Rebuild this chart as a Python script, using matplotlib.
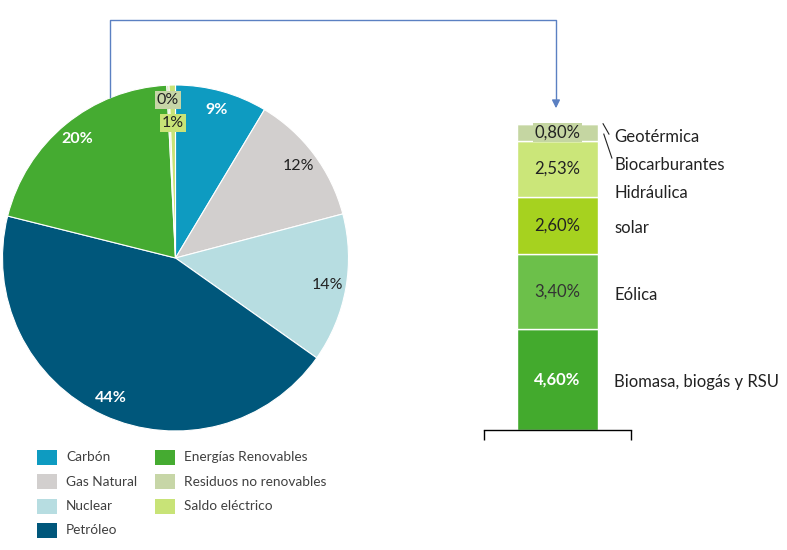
import matplotlib
matplotlib.use("Agg")
import matplotlib.pyplot as plt
from matplotlib.patches import Rectangle
import numpy as np

plt.rcParams['font.family'] = ['Lato', 'DejaVu Sans']

# Pie data
pie_labels = ['Carbón', 'Gas Natural', 'Nuclear', 'Petróleo', 'Energías Renovables',
              'Residuos no renovables', 'Saldo eléctrico']
pie_values = [8.6, 12.3, 13.9, 44.1, 20.3, 0.2, 0.6]
pie_colors = ['#0E9BC1', '#D2CFCE', '#B7DDE1', '#00577B', '#45AB31', '#C7D6A7', '#C8E377']
pie_text_colors = ['white', '#222222', '#222222', 'white', 'white', '#222222', '#222222']
pie_text_bold = [True, False, False, True, True, False, False]

# Stacked bar data (renewables breakdown)
bar_labels = ['Biomasa, biogás y RSU', 'Eólica', 'solar', 'Hidráulica', 'Biocarburantes', 'Geotérmica']
bar_values = [4.60, 3.40, 2.60, 2.53, 0.80, 0.02]
bar_value_text = ['4,60%', '3,40%', '2,60%', '2,53%', '0,80%', '']
bar_colors = ['#43AA2D', '#6CC04A', '#A6D21F', '#CBE679', '#C5D6A2', '#C5D6A2']
bar_text_colors = ['white', '#333333', '#222222', '#222222', '#222222', '#222222']
bar_label_y = [2.18, 6.14, 9.18, 10.77, 12.05, 13.32]

fig = plt.figure(figsize=(7.87, 5.50), dpi=100)
W, H = 787.0, 550.0

# ---------- Pie ----------
cx, cy, R = 175.5, 258.0, 173.0
axp = fig.add_axes([(cx - R) / W, 1 - (cy + R) / H, 2 * R / W, 2 * R / H])
wedges, texts = axp.pie(pie_values, colors=pie_colors, startangle=90, counterclock=False,
                        radius=1.0, wedgeprops=dict(edgecolor='white', linewidth=0.8))
axp.set_xlim(-1, 1)
axp.set_ylim(-1, 1)
axp.set_aspect('equal')
axp.axis('off')

total = sum(pie_values)
cum = 0.0
for i, v in enumerate(pie_values):
    mid = cum + v / 2
    cum += v
    ang = np.deg2rad(90 - 360 * mid / total)
    lab = f"{round(v):.0f}%"
    if i < 5:
        r = 0.89
        axp.text(r * np.cos(ang), r * np.sin(ang), lab, ha='center', va='center',
                 fontsize=11.5, color=pie_text_colors[i],
                 fontweight='bold' if pie_text_bold[i] else 'normal')
    else:
        pos = {5: (-0.045, 0.915), 6: (-0.015, 0.78)}[i]
        axp.text(pos[0], pos[1], lab, ha='center', va='center', fontsize=11.5,
                 color='#222222',
                 bbox=dict(boxstyle='square,pad=0.12', facecolor=pie_colors[i], edgecolor='none'))

# ---------- Stacked bar ----------
bx0, bx1, by0 = 484.0, 631.0, 430.0
ymax = 14.0
scale = 22.0
axb = fig.add_axes([bx0 / W, 1 - by0 / H, (bx1 - bx0) / W, ymax * scale / H])
bottom = 0.0
for i, v in enumerate(bar_values):
    axb.bar(0, v, bottom=bottom, width=0.551, color=bar_colors[i], edgecolor='white',
            linewidth=1.0)
    if bar_value_text[i]:
        axb.text(0, bottom + v / 2, bar_value_text[i], ha='center', va='center',
                 fontsize=12, color=bar_text_colors[i],
                 fontweight='bold' if i == 0 else 'normal',
                 bbox=dict(boxstyle='square,pad=0.1', facecolor=bar_colors[i],
                           edgecolor='none') if i == 4 else None)
    bottom += v
axb.set_xlim(-0.5, 0.5)
axb.set_ylim(0, ymax)
for s in ['top', 'right', 'left']:
    axb.spines[s].set_visible(False)
axb.spines['bottom'].set_linewidth(1.0)
axb.set_yticks([])
axb.set_xticks([-0.5, 0.5])
axb.set_xticklabels(['', ''])
axb.tick_params(axis='x', length=7, width=1.0, direction='out')

lab_x = 0.385
for i, name in enumerate(bar_labels):
    axb.text(lab_x, bar_label_y[i], name, ha='left', va='center', fontsize=12, color='#222222',
             clip_on=False)
axb.plot([0.31, 0.35], [13.92, 13.45], color='#222222', lw=0.8, clip_on=False)
axb.plot([0.315, 0.37], [13.45, 12.36], color='#222222', lw=0.8, clip_on=False)

# ---------- overlay: connector arrow and legend ----------
axo = fig.add_axes([0, 0, 1, 1], facecolor='none')
axo.set_xlim(0, W)
axo.set_ylim(H, 0)
axo.axis('off')
axo.plot([110, 110, 556, 556], [97, 20, 20, 104], color='#5B80C2', lw=1.0)
axo.annotate('', xy=(556, 111), xytext=(556, 100),
             arrowprops=dict(arrowstyle='-|>', color='#5B80C2', lw=1.0, mutation_scale=12))

col_x = [37, 155]
row_y = [457, 481.5, 506, 530.5]
for i, (name, col) in enumerate(zip(pie_labels, pie_colors)):
    c = 0 if i < 4 else 1
    r = i if i < 4 else i - 4
    x0 = col_x[c]
    y0 = row_y[r]
    axo.add_patch(Rectangle((x0, y0 - 7.5), 20, 15, facecolor=col, edgecolor='none'))
    axo.text(x0 + 29, y0, name, ha='left', va='center', fontsize=9.8, color='#404040')

fig.savefig('out.png', dpi=100)
